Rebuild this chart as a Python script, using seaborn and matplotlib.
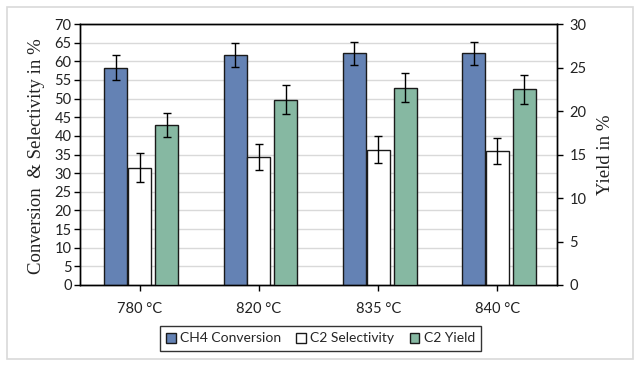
import numpy as np
import pandas as pd
import matplotlib
matplotlib.use("Agg")
import matplotlib.pyplot as plt
import seaborn as sns
from matplotlib.patches import Patch, Rectangle

categories = ["780 °C", "820 °C", "835 °C", "840 °C"]
ch4_conversion = [58.3, 61.8, 62.2, 62.2]
ch4_err = [3.4, 3.2, 3.1, 3.1]
c2_selectivity = [31.5, 34.3, 36.3, 35.9]
sel_err = [3.8, 3.5, 3.6, 3.5]
c2_yield = [18.4, 21.3, 22.7, 22.5]
yield_err = [1.4, 1.65, 1.65, 1.65]

left_ticks = list(range(0, 75, 5))
right_ticks = list(range(0, 35, 5))

BLUE = "#6482B4"
GREEN = "#86B8A2"
EDGE = "#1a1a1a"

sns.set_theme(style="white")
plt.rcParams["font.family"] = ["Lato", "DejaVu Sans"]

fig = plt.figure(figsize=(6.39, 3.67), dpi=100)
fig.patches.append(Rectangle((7 / 639, 1 - 359 / 367), 626 / 639, 352 / 367,
                             transform=fig.transFigure, fill=False,
                             edgecolor="#D9D9D9", linewidth=1.2, zorder=0))
ax = fig.add_axes([80 / 639, 1 - 285 / 367, 477 / 639, 261 / 367])
ax2 = ax.twinx()

pos = np.arange(len(categories))
w = 0.193
off_blue, off_white, off_green = -0.2, 0.0, 0.226

df = pd.DataFrame({"pos_b": pos + off_blue, "pos_w": pos + off_white, "pos_g": pos + off_green,
                   "ch4": ch4_conversion, "sel": c2_selectivity, "yld": c2_yield})

sns.barplot(data=df, x="pos_b", y="ch4", native_scale=True, width=w, color=BLUE,
            saturation=1, edgecolor=EDGE, linewidth=1, ax=ax, errorbar=None, zorder=3)
sns.barplot(data=df, x="pos_w", y="sel", native_scale=True, width=w, color="white",
            saturation=1, edgecolor=EDGE, linewidth=1, ax=ax, errorbar=None, zorder=3)
sns.barplot(data=df, x="pos_g", y="yld", native_scale=True, width=w, color=GREEN,
            saturation=1, edgecolor=EDGE, linewidth=1, ax=ax2, errorbar=None, zorder=3)

ax.errorbar(df["pos_b"], ch4_conversion, yerr=ch4_err, fmt="none", ecolor="black",
            elinewidth=1, capsize=2.6, capthick=1, zorder=4)
ax.errorbar(df["pos_w"], c2_selectivity, yerr=sel_err, fmt="none", ecolor="black",
            elinewidth=1, capsize=2.6, capthick=1, zorder=4)
ax2.errorbar(df["pos_g"], c2_yield, yerr=yield_err, fmt="none", ecolor="black",
             elinewidth=1, capsize=2.6, capthick=1, zorder=4)

for a in (ax, ax2):
    a.set_xlim(-0.5, len(categories) - 0.5)
    a.set_xlabel("")
    a.set_ylabel("")
ax.set_ylim(0, 70)
ax2.set_ylim(0, 30)
ax.set_yticks(left_ticks)
ax2.set_yticks(right_ticks)
ax.set_xticks(pos)
ax.set_xticklabels(categories)
ax.yaxis.grid(True, color="#D9D9D9", linewidth=1)
ax.set_axisbelow(True)
ax2.grid(False)

for a in (ax, ax2):
    for s in a.spines.values():
        s.set_color("black")
        s.set_linewidth(1)
ax.tick_params(axis="y", which="both", left=True, length=4, width=1, color="black",
               labelsize=10.5, pad=2, labelcolor="#222222")
ax.tick_params(axis="x", bottom=True, length=4, width=1, color="black",
               labelsize=10.5, pad=8, labelcolor="#222222")
ax2.tick_params(axis="y", right=True, length=4, width=1, color="black",
                labelsize=10.5, pad=5, labelcolor="#222222")

fig.text(37 / 639, 1 - 156 / 367, "Conversion  & Selectivity in %", rotation=90,
         ha="center", va="center", fontsize=13.5, family=["Liberation Serif"], color="#222222")
fig.text(605 / 639, 1 - 155 / 367, "Yield in %", rotation=90,
         ha="center", va="center", fontsize=13.5, family=["Liberation Serif"], color="#222222")

handles = [Patch(facecolor=BLUE, edgecolor=EDGE, linewidth=1),
           Patch(facecolor="white", edgecolor=EDGE, linewidth=1),
           Patch(facecolor=GREEN, edgecolor=EDGE, linewidth=1)]
labels = ["CH4 Conversion", "C2 Selectivity", "C2 Yield"]
leg = fig.legend(handles, labels, loc="center", bbox_to_anchor=(320.5 / 639, 1 - 338.5 / 367),
                 ncol=3, frameon=True, fontsize=10, handlelength=0.7, handleheight=0.7,
                 handletextpad=0.3, columnspacing=1.1, borderpad=0.45, fancybox=False)
leg.get_frame().set_edgecolor("black")
leg.get_frame().set_linewidth(1)

fig.savefig("out.png", dpi=100)
